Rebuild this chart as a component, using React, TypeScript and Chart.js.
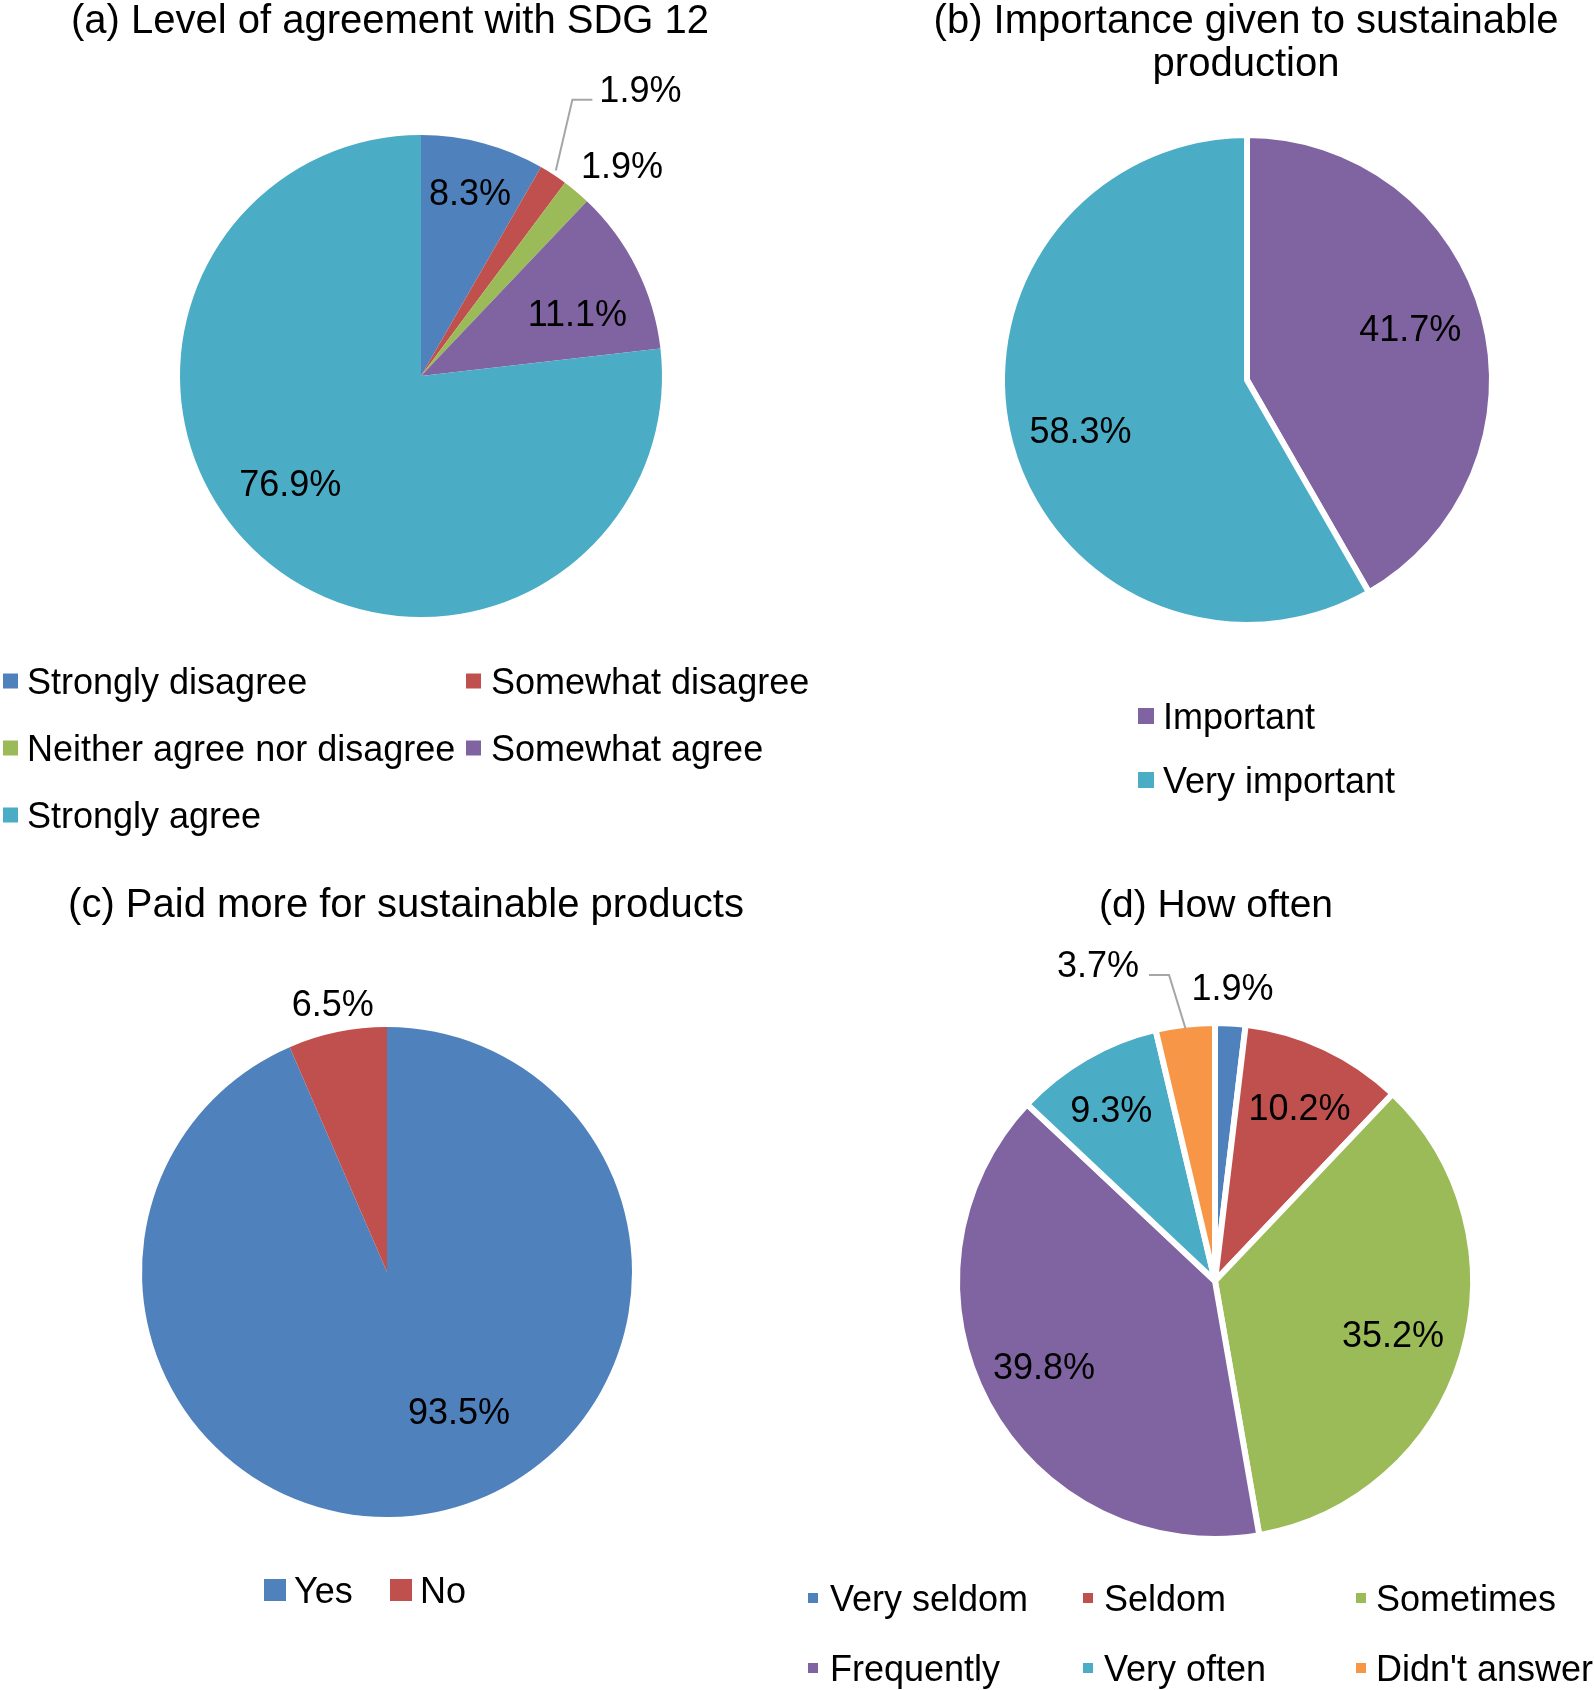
import React, { useEffect, useRef } from "react";
import { Chart, registerables } from "chart.js";

Chart.register(...registerables);

const FONT = '"Liberation Sans", Arial, Helvetica, sans-serif';

const BLUE = "#4F81BD";
const RED = "#C0504D";
const GREEN = "#9BBB59";
const PURPLE = "#8064A2";
const AQUA = "#4BACC6";
const ORANGE = "#F79646";

// (a) Level of agreement with SDG 12
const agreementCategories = [
  "Strongly disagree",
  "Somewhat disagree",
  "Neither agree nor disagree",
  "Somewhat agree",
  "Strongly agree",
];
const agreementValues = [8.3, 1.9, 1.9, 11.1, 76.9];

// (b) Importance given to sustainable production
const importanceCategories = ["Important", "Very important"];
const importanceValues = [41.7, 58.3];

// (c) Paid more for sustainable products
const paidCategories = ["Yes", "No"];
const paidValues = [93.5, 6.5];

// (d) How often
const frequencyCategories = [
  "Very seldom",
  "Seldom",
  "Sometimes",
  "Frequently",
  "Very often",
  "Didn't answer",
];
const frequencyValues = [1.9, 10.2, 35.2, 39.8, 9.3, 3.7];

type LabelStyle = { f: number; da: number; leader?: "left" | "right"; lf?: number };
type Panel = {
  rect: [number, number, number, number];
  center: [number, number];
  radius: number;
  border: number;
  categories: string[];
  values: number[];
  colors: string[];
  title: { lines: string[]; x: number; y: number; lh: number; size: number };
  labelStyles: LabelStyle[];
  markerSize: number;
  legend: [number, number, number][];
};

const panels: Panel[] = [
  {
    rect: [0, 0, 880, 860],
    center: [421, 376],
    radius: 241,
    border: 0,
    categories: agreementCategories,
    values: agreementValues,
    colors: [BLUE, RED, GREEN, PURPLE, AQUA],
    title: { lines: ["(a) Level of agreement with SDG 12"], x: 390, y: 33, lh: 43, size: 40 },
    labelStyles: [
      { f: 0.79, da: 0 },
      { f: 1.5, da: 4.1, leader: "left", lf: 1.02 },
      { f: 1.21, da: 3.5 },
      { f: 0.7, da: 4.5 },
      { f: 0.7, da: 9.1 },
    ],
    markerSize: 15,
    legend: [
      [3, 681, 27],
      [466, 681, 491],
      [3, 748, 27],
      [466, 748, 491],
      [3, 815, 27],
    ],
  },
  {
    rect: [880, 0, 714, 860],
    center: [1247, 380],
    radius: 245,
    border: 6,
    categories: importanceCategories,
    values: importanceValues,
    colors: [PURPLE, AQUA],
    title: {
      lines: ["(b) Importance given to sustainable", "production"],
      x: 1246,
      y: 33,
      lh: 43,
      size: 40,
    },
    labelStyles: [
      { f: 0.7, da: -2.8 },
      { f: 0.71, da: -1.8 },
    ],
    markerSize: 16,
    legend: [
      [1138, 716, 1163],
      [1138, 780, 1163],
    ],
  },
  {
    rect: [0, 860, 797, 830],
    center: [387, 1272],
    radius: 245,
    border: 0,
    categories: paidCategories,
    values: paidValues,
    colors: [BLUE, RED],
    title: { lines: ["(c) Paid more for sustainable products"], x: 406, y: 917, lh: 43, size: 40 },
    labelStyles: [
      { f: 0.64, da: -15.6 },
      { f: 1.12, da: 0.3 },
    ],
    markerSize: 22,
    legend: [
      [264, 1590, 294],
      [390, 1590, 420],
    ],
  },
  {
    rect: [797, 860, 797, 830],
    center: [1215, 1281],
    radius: 258,
    border: 6,
    categories: frequencyCategories,
    values: frequencyValues,
    colors: [BLUE, RED, GREEN, PURPLE, AQUA, ORANGE],
    title: { lines: ["(d) How often"], x: 1216, y: 917, lh: 43, size: 39 },
    labelStyles: [
      { f: 1.14, da: 0 },
      { f: 0.75, da: 0.7 },
      { f: 0.72, da: -0.2 },
      { f: 0.74, da: 1.9 },
      { f: 0.78, da: -1 },
      { f: 1.31, da: -13.6, leader: "right", lf: 0.985 },
    ],
    markerSize: 10,
    legend: [
      [808, 1598, 830],
      [1083, 1598, 1104],
      [1356, 1598, 1376],
      [808, 1668, 830],
      [1083, 1668, 1104],
      [1356, 1668, 1376],
    ],
  },
];

function makeOverlay(p: Panel) {
  return {
    id: "overlay",
    afterDraw(chart: any) {
      const ctx: CanvasRenderingContext2D = chart.ctx;
      const ox = p.rect[0];
      const oy = p.rect[1];
      ctx.save();
      ctx.fillStyle = "#000";
      ctx.textBaseline = "alphabetic";

      // title
      ctx.font = `${p.title.size}px ${FONT}`;
      ctx.textAlign = "center";
      p.title.lines.forEach((t, i) => {
        ctx.fillText(t, p.title.x - ox, p.title.y - oy + i * p.title.lh);
      });

      // data labels
      ctx.font = `36px ${FONT}`;
      const meta = chart.getDatasetMeta(0);
      meta.data.forEach((arc: any, i: number) => {
        const { x, y, startAngle, endAngle, outerRadius } = arc.getProps(
          ["x", "y", "startAngle", "endAngle", "outerRadius"],
          true
        );
        const s = p.labelStyles[i];
        const mid = (startAngle + endAngle) / 2;
        const a = mid + (s.da * Math.PI) / 180;
        const lx = x + Math.cos(a) * s.f * outerRadius;
        const ly = y + Math.sin(a) * s.f * outerRadius;
        const text = p.values[i].toFixed(1) + "%";
        ctx.fillStyle = "#000";
        ctx.textAlign = "center";
        ctx.fillText(text, lx, ly + 13);
        if (s.leader) {
          const w = ctx.measureText(text).width;
          const sr = (s.lf || 1) * outerRadius;
          const sx = x + Math.cos(mid) * sr;
          const sy = y + Math.sin(mid) * sr;
          let ex: number, elx: number;
          const ey = ly + 11;
          if (s.leader === "left") {
            ex = lx - w / 2 - 7;
            elx = ex - 20;
          } else {
            ex = lx + w / 2 + 10;
            elx = ex + 20;
          }
          ctx.strokeStyle = "#A6A6A6";
          ctx.lineWidth = 2;
          ctx.beginPath();
          ctx.moveTo(sx, sy);
          ctx.lineTo(elx, ey);
          ctx.lineTo(ex, ey);
          ctx.stroke();
        }
      });

      // legend
      ctx.textAlign = "left";
      p.legend.forEach(([mx, my, tx], i) => {
        const m = p.markerSize;
        ctx.fillStyle = p.colors[i];
        ctx.fillRect(mx - ox, my - oy - m / 2, m, m);
        ctx.fillStyle = "#000";
        ctx.font = `36px ${FONT}`;
        ctx.fillText(p.categories[i], tx - ox, my - oy + 13);
      });
      ctx.restore();
    },
  };
}

function PiePanel({ p }: { p: Panel }) {
  const ref = useRef<HTMLCanvasElement | null>(null);
  useEffect(() => {
    if (!ref.current) return;
    const [rx, ry, rw, rh] = p.rect;
    const lcx = p.center[0] - rx;
    const lcy = p.center[1] - ry;
    const h = p.radius + p.border + 6;
    const chart = new Chart(ref.current, {
      type: "pie",
      data: {
        labels: p.categories,
        datasets: [
          {
            data: p.values,
            backgroundColor: p.colors,
            borderColor: "#FFFFFF",
            borderWidth: p.border,
            hoverOffset: 0,
          } as any,
        ],
      },
      options: {
        animation: false,
        responsive: false,
        maintainAspectRatio: false,
        radius: p.radius,
        events: [],
        layout: {
          padding: {
            left: lcx - h,
            right: rw - lcx - h,
            top: lcy - h,
            bottom: rh - lcy - h,
          },
        },
        plugins: {
          legend: { display: false },
          tooltip: { enabled: false },
          title: { display: false },
        },
      } as any,
      plugins: [makeOverlay(p)],
    });
    return () => chart.destroy();
  }, [p]);
  const [x, y, w, h] = p.rect;
  return (
    <canvas
      ref={ref}
      width={w}
      height={h}
      style={{ position: "absolute", left: x, top: y, width: w, height: h }}
    />
  );
}

export default function App() {
  return (
    <div
      style={{
        position: "absolute",
        left: 0,
        top: 0,
        width: 1594,
        height: 1690,
        overflow: "hidden",
        background: "#FFFFFF",
      }}
    >
      {panels.map((p, i) => (
        <PiePanel key={i} p={p} />
      ))}
    </div>
  );
}
